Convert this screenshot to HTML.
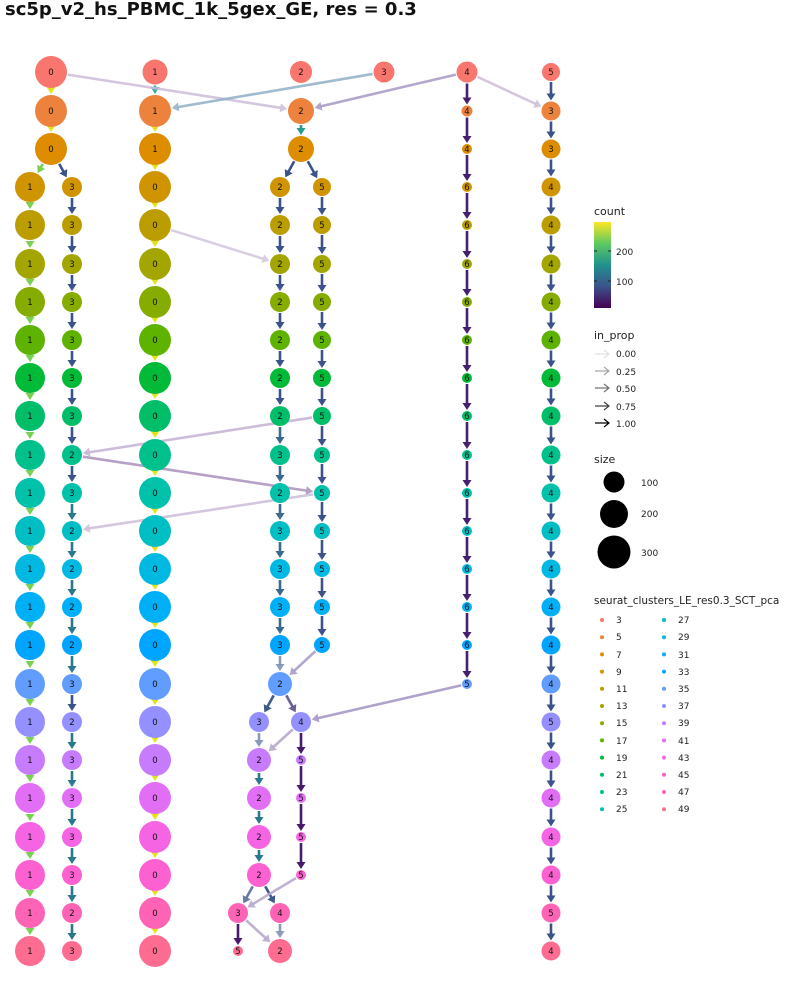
<!DOCTYPE html>
<html><head><meta charset="utf-8"><style>
body{margin:0;background:#fff}
svg{display:block}
.t{font-family:"DejaVu Sans","Liberation Sans",sans-serif}
.n text{font-size:8.5px;text-anchor:middle;fill:#111}
.lg{font-size:10px;fill:#222}
</style></head><body>
<svg id="s" width="800" height="1000" viewBox="0 0 800 1000" class="t">
<defs>
<linearGradient id="vir" x1="0" y1="1" x2="0" y2="0">
<stop offset="0" stop-color="#440154"/><stop offset="0.25" stop-color="#3b528b"/><stop offset="0.5" stop-color="#21918c"/><stop offset="0.75" stop-color="#5ec962"/><stop offset="1" stop-color="#fde725"/>
</linearGradient>
</defs>
<text x="5" y="15" style="font-size:18px;font-weight:bold;fill:#111">sc5p_v2_hs_PBMC_1k_5gex_GE, res = 0.3</text>
<g id="edges"></g>
<g id="nodes"></g>
<g class="n" id="labels">
<text x="51" y="75">0</text><text x="155" y="75">1</text><text x="301" y="75">2</text><text x="384" y="75">3</text><text x="467" y="75">4</text><text x="551" y="75">5</text>
<text x="51" y="114">0</text><text x="155" y="114">1</text><text x="301" y="114">2</text><text x="467" y="114">4</text><text x="551" y="114">3</text>
<text x="51" y="152">0</text><text x="155" y="152">1</text><text x="301" y="152">2</text><text x="467" y="152">4</text><text x="551" y="152">3</text>
<text x="30" y="190">1</text><text x="72" y="190">3</text><text x="155" y="190">0</text><text x="280" y="190">2</text><text x="322" y="190">5</text><text x="467" y="190">6</text><text x="551" y="190">4</text>
<text x="30" y="228">1</text><text x="72" y="228">3</text><text x="155" y="228">0</text><text x="280" y="228">2</text><text x="322" y="228">5</text><text x="467" y="228">6</text><text x="551" y="228">4</text>
<text x="30" y="267">1</text><text x="72" y="267">3</text><text x="155" y="267">0</text><text x="280" y="267">2</text><text x="322" y="267">5</text><text x="467" y="267">6</text><text x="551" y="267">4</text>
<text x="30" y="305">1</text><text x="72" y="305">3</text><text x="155" y="305">0</text><text x="280" y="305">2</text><text x="322" y="305">5</text><text x="467" y="305">6</text><text x="551" y="305">4</text>
<text x="30" y="343">1</text><text x="72" y="343">3</text><text x="155" y="343">0</text><text x="280" y="343">2</text><text x="322" y="343">5</text><text x="467" y="343">6</text><text x="551" y="343">4</text>
<text x="30" y="381">1</text><text x="72" y="381">3</text><text x="155" y="381">0</text><text x="280" y="381">2</text><text x="322" y="381">5</text><text x="467" y="381">6</text><text x="551" y="381">4</text>
<text x="30" y="419">1</text><text x="72" y="419">3</text><text x="155" y="419">0</text><text x="280" y="419">2</text><text x="322" y="419">5</text><text x="467" y="419">6</text><text x="551" y="419">4</text>
<text x="30" y="458">1</text><text x="72" y="458">2</text><text x="155" y="458">0</text><text x="280" y="458">3</text><text x="322" y="458">5</text><text x="467" y="458">6</text><text x="551" y="458">4</text>
<text x="30" y="496">1</text><text x="72" y="496">3</text><text x="155" y="496">0</text><text x="280" y="496">2</text><text x="322" y="496">5</text><text x="467" y="496">6</text><text x="551" y="496">4</text>
<text x="30" y="534">1</text><text x="72" y="534">2</text><text x="155" y="534">0</text><text x="280" y="534">3</text><text x="322" y="534">5</text><text x="467" y="534">6</text><text x="551" y="534">4</text>
<text x="30" y="572">1</text><text x="72" y="572">2</text><text x="155" y="572">0</text><text x="280" y="572">3</text><text x="322" y="572">5</text><text x="467" y="572">6</text><text x="551" y="572">4</text>
<text x="30" y="610">1</text><text x="72" y="610">2</text><text x="155" y="610">0</text><text x="280" y="610">3</text><text x="322" y="610">5</text><text x="467" y="610">6</text><text x="551" y="610">4</text>
<text x="30" y="648">1</text><text x="72" y="648">2</text><text x="155" y="648">0</text><text x="280" y="648">3</text><text x="322" y="648">5</text><text x="467" y="648">6</text><text x="551" y="648">4</text>
<text x="30" y="687">1</text><text x="72" y="687">3</text><text x="155" y="687">0</text><text x="280" y="687">2</text><text x="467" y="687">5</text><text x="551" y="687">4</text>
<text x="30" y="725">1</text><text x="72" y="725">2</text><text x="155" y="725">0</text><text x="259" y="725">3</text><text x="301" y="725">4</text><text x="551" y="725">5</text>
<text x="30" y="763">1</text><text x="72" y="763">3</text><text x="155" y="763">0</text><text x="259" y="763">2</text><text x="301" y="763">5</text><text x="551" y="763">4</text>
<text x="30" y="801">1</text><text x="72" y="801">3</text><text x="155" y="801">0</text><text x="259" y="801">2</text><text x="301" y="801">5</text><text x="551" y="801">4</text>
<text x="30" y="840">1</text><text x="72" y="840">3</text><text x="155" y="840">0</text><text x="259" y="840">2</text><text x="301" y="840">5</text><text x="551" y="840">4</text>
<text x="30" y="878">1</text><text x="72" y="878">3</text><text x="155" y="878">0</text><text x="259" y="878">2</text><text x="301" y="878">5</text><text x="551" y="878">4</text>
<text x="30" y="916">1</text><text x="72" y="916">2</text><text x="155" y="916">0</text><text x="238" y="916">3</text><text x="280" y="916">4</text><text x="551" y="916">5</text>
<text x="30" y="954">1</text><text x="72" y="954">3</text><text x="155" y="954">0</text><text x="238" y="954">5</text><text x="280" y="954">2</text><text x="551" y="954">4</text>
</g>
<!-- legend -->
<text class="lg" x="594" y="215" style="font-size:11px">count</text>
<rect x="594" y="222" width="17" height="86" fill="url(#vir)"/>
<g stroke="#222" stroke-width="1"><line x1="594" y1="251" x2="597" y2="251"/><line x1="608" y1="251" x2="611" y2="251"/><line x1="594" y1="281" x2="597" y2="281"/><line x1="608" y1="281" x2="611" y2="281"/></g>
<text class="lg" x="616" y="255" style="font-size:9px">200</text>
<text class="lg" x="616" y="285" style="font-size:9px">100</text>
<text class="lg" x="594" y="339" style="font-size:11px">in_prop</text>
<g id="legarr"></g>
<text class="lg" x="616" y="357" style="font-size:9px">0.00</text>
<text class="lg" x="616" y="375" style="font-size:9px">0.25</text>
<text class="lg" x="616" y="392" style="font-size:9px">0.50</text>
<text class="lg" x="616" y="410" style="font-size:9px">0.75</text>
<text class="lg" x="616" y="427" style="font-size:9px">1.00</text>
<text class="lg" x="594" y="463" style="font-size:11px">size</text>
<circle cx="614" cy="482" r="10.5" fill="#000"/><circle cx="614" cy="514" r="14" fill="#000"/><circle cx="614" cy="552" r="16.5" fill="#000"/>
<text class="lg" x="641" y="486" style="font-size:9px">100</text>
<text class="lg" x="641" y="517" style="font-size:9px">200</text>
<text class="lg" x="641" y="556" style="font-size:9px">300</text>
<text class="lg" x="594" y="604" style="font-size:10.5px">seurat_clusters_LE_res0.3_SCT_pca</text>
<g id="legdots"></g>
<g class="lg" style="font-size:9px">
<text x="616" y="623">3</text><text x="616" y="640">5</text><text x="616" y="658">7</text><text x="616" y="675">9</text><text x="616" y="692">11</text><text x="616" y="709">13</text><text x="616" y="726">15</text><text x="616" y="744">17</text><text x="616" y="761">19</text><text x="616" y="778">21</text><text x="616" y="795">23</text><text x="616" y="812">25</text>
<text x="678" y="623">27</text><text x="678" y="640">29</text><text x="678" y="658">31</text><text x="678" y="675">33</text><text x="678" y="692">35</text><text x="678" y="709">37</text><text x="678" y="726">39</text><text x="678" y="744">41</text><text x="678" y="761">43</text><text x="678" y="778">45</text><text x="678" y="795">47</text><text x="678" y="812">49</text>
</g>
</svg>
<script>
var NS="http://www.w3.org/2000/svg";
var Y=[72,111,149,187,225,264,302,340,378,416,455,493,531,569,607,645,684,722,760,798,837,875,913,951];
var C=["#F8766D","#EC823C","#DE8C00","#CF9400","#BB9D00","#A3A500","#87AC00","#5DB300","#00BA38","#00BE67","#00C08B","#00C1AA","#00BFC4","#00B9E3","#00B0F6","#00A5FF","#619CFF","#9590FF","#C77CFF","#E36EF6","#F564E3","#FD61D1","#FF63B6","#FF6C91"];
var R={};
function n(r,x,rad){R[r+":"+x]=rad;}
n(0,51,16);n(0,155,12.5);n(0,301,11);n(0,384,10.5);n(0,467,10.5);n(0,551,9);
for(var r=1;r<=2;r++){n(r,51,16);n(r,155,16);n(r,301,13);n(r,467,r==1?5.5:5);n(r,551,9.5);}
for(r=3;r<=23;r++){n(r,30,15);n(r,155,16);n(r,72,10);n(r,551,9.5);}
for(r=3;r<=15;r++){n(r,280,10);n(r,322,r>=10?8:9);n(r,467,5);}
n(16,280,12);n(16,467,5);
n(17,259,10);n(17,301,10);
for(r=18;r<=21;r++){n(r,259,12);n(r,301,5);}
n(22,238,10);n(22,280,10);n(23,238,5);n(23,280,12);
var ng=document.getElementById("nodes");
for(var k in R){var p=k.split(":");var c=document.createElementNS(NS,"circle");c.setAttribute("cx",p[1]);c.setAttribute("cy",Y[+p[0]]);c.setAttribute("r",R[k]);c.setAttribute("fill",C[+p[0]]);ng.appendChild(c);}
var eg=document.getElementById("edges");
function arrow(g,x1,y1,x2,y2,col,op,w){
 var dx=x2-x1,dy=y2-y1,L=Math.sqrt(dx*dx+dy*dy),ux=dx/L,uy=dy/L;
 var hl=7,hw=4.5;
 var bx=x2-ux*hl,by=y2-uy*hl;
 var l=document.createElementNS(NS,"line");
 l.setAttribute("x1",x1);l.setAttribute("y1",y1);l.setAttribute("x2",bx+ux*1);l.setAttribute("y2",by+uy*1);
 l.setAttribute("stroke",col);l.setAttribute("stroke-width",w||2.6);l.setAttribute("stroke-opacity",op);g.appendChild(l);
 var pg=document.createElementNS(NS,"polygon");
 pg.setAttribute("points",x2+","+y2+" "+(bx-uy*hw)+","+(by+ux*hw)+" "+(bx+uy*hw)+","+(by-ux*hw));
 pg.setAttribute("fill",col);pg.setAttribute("fill-opacity",op);g.appendChild(pg);
}
function e(r1,x1,r2,x2,col,op){
 var a=R[r1+":"+x1],b=R[r2+":"+x2];
 var X1=x1,Y1=Y[r1],X2=x2,Y2=Y[r2];
 var dx=X2-X1,dy=Y2-Y1,L=Math.sqrt(dx*dx+dy*dy),ux=dx/L,uy=dy/L;
 arrow(eg,X1+ux*(a+1),Y1+uy*(a+1),X2-ux*(b+1),Y2-uy*(b+1),col,op==null?1:op);
}
var YEL="#E3E418",GRN="#7AD151",BLU="#3B528B",TEAL="#2A788E",PUR="#481A6C",LAV="#B8A8CC",SL="#7E8FB4";
e(0,51,1,51,YEL);e(1,51,2,51,YEL);
e(0,155,1,155,"#3EA9A0");for(r=1;r<23;r++)e(r,155,r+1,155,YEL);
e(2,51,3,30,GRN);e(2,51,3,72,BLU);
for(r=3;r<23;r++)e(r,30,r+1,30,GRN);
for(r=3;r<23;r++)e(r,72,r+1,72,(r>=11&&r<16)||r>=17?TEAL:BLU);
e(1,301,2,301,"#2A9C8E");e(2,301,3,280,BLU);e(2,301,3,322,BLU);
for(r=3;r<15;r++){e(r,280,r+1,280,r<9?BLU:"#3B6A8E");e(r,322,r+1,322,BLU);}
e(15,280,16,280,SL,0.9);
for(r=0;r<16;r++)e(r,467,r+1,467,"#46206F");
for(r=0;r<23;r++)e(r,551,r+1,551,BLU);
e(0,51,1,301,"#CDBCD8",0.85);
e(0,384,1,155,"#8FAFC6",0.85);
e(0,467,1,301,"#A698C6",0.85);
e(0,467,1,551,"#CDBCD8",0.85);
e(4,155,5,280,"#D3C6DE",0.85);
e(9,322,10,72,"#C3B0D3",0.85);
e(10,72,11,322,"#AE96C0",0.9);
e(11,322,12,72,"#CDBCD8",0.85);
e(15,322,16,280,"#A698C6",0.85);
e(16,280,17,259,"#3E5A8A");e(16,280,17,301,"#6C5F96");
e(16,467,17,301,"#A698C6",0.9);
e(17,259,18,259,SL,0.9);e(17,301,18,259,LAV,0.9);e(17,301,18,301,PUR);
for(r=18;r<21;r++){e(r,259,r+1,259,TEAL);e(r,301,r+1,301,PUR);}
e(21,259,22,238,"#6B7AA4");e(21,259,22,280,"#3E5A8A");e(21,301,22,238,LAV,0.9);
e(22,238,23,238,PUR);e(22,238,23,280,LAV,0.9);e(22,280,23,280,SL,0.9);
var la=document.getElementById("legarr");var ops=[0.12,0.35,0.55,0.75,1];var ly=[354,371,388,406,423];
for(var i=0;i<5;i++){var op=ops[i];
 var l=document.createElementNS(NS,"path");l.setAttribute("d","M595 "+ly[i]+"H609M604 "+(ly[i]-4)+"L609 "+ly[i]+"L604 "+(ly[i]+4));
 l.setAttribute("stroke","#000");l.setAttribute("stroke-opacity",op);l.setAttribute("fill","none");l.setAttribute("stroke-width",1.2);la.appendChild(l);}
var ld=document.getElementById("legdots");
for(i=0;i<24;i++){var c=document.createElementNS(NS,"circle");c.setAttribute("cx",i<12?602:664);c.setAttribute("cy",620+(i%12)*17.2);c.setAttribute("r",2);c.setAttribute("fill",C[i]);ld.appendChild(c);}
</script>
</body></html>
